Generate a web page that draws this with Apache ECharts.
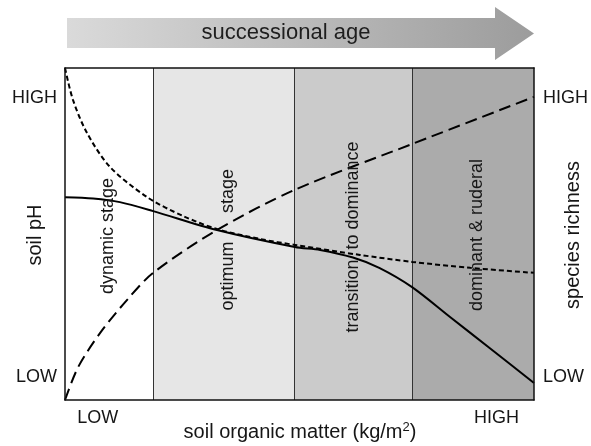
<!DOCTYPE html>
<html>
<head>
<meta charset="utf-8">
<script src="https://cdn.jsdelivr.net/npm/echarts@6/dist/echarts.min.js"></script>
<style>
  html, body { margin: 0; padding: 0; background: #fff; }
  #chart { width: 591px; height: 446px; }
</style>
</head>
<body>
<div id="chart"></div>
<script>
// stage bands along soil organic matter (0..100 relative scale)
const bandEdges = [0, 18.8, 48.8, 74.0, 100]
const bandColors = ['#ffffff', '#e6e6e6', '#cbcbcb', '#ababab']

// curves, [x, y] in 0..100 relative units
const soilPH = [
  [0, 61.1], [6, 60.7], [11.7, 59.6], [18.8, 56.9], [32.4, 51.2],
  [49.0, 46.1], [54.4, 45.2], [61.4, 42.9], [67, 39.8], [74.0, 34.0],
  [82.1, 25.0], [90.6, 15.6], [100, 5.1]
]
const speciesRichness = [
  [0, 100], [1.7, 90.4], [4.7, 80.4], [9.6, 70.2], [17.5, 61.1],
  [25.2, 55.4], [32.4, 51.5], [41.6, 48.5], [49.0, 46.7], [62.9, 43.7],
  [74.0, 41.6], [86.4, 39.8], [100, 38.3]
]
const organicMatter = [
  [0, 0], [2.8, 9.9], [7.5, 20.2], [13.2, 30.1], [18.8, 38.3],
  [32.4, 51.2], [49.0, 63.3], [74.0, 77.1], [100, 91.3]
]

// tick labels
const levelNames = ['LOW', 'HIGH']
const xLevelValues = [7, 92]
const yLevelValues = [7, 91]

const FONT = 'Liberation Sans, Arial, Helvetica, sans-serif'
const TXT = '#161616'

const chart = echarts.init(document.getElementById('chart'))

const levelFmt = (vals) => (v) => levelNames[vals.indexOf(v)] || ''

const axisLine = { show: true, onZero: false, lineStyle: { color: '#111', width: 1.5 } }
const labelStyle = { fontFamily: FONT, fontSize: 18, color: TXT }

function vtext(text, x, y, size) {
  return {
    type: 'text', x, y, rotation: Math.PI / 2, z: 20,
    style: { text, fontFamily: FONT, fontSize: size, fill: TXT, align: 'center', verticalAlign: 'middle' }
  }
}

const option = {
  animation: false,
  grid: { left: 65, top: 68, width: 469, height: 332 },
  xAxis: [
    {
      type: 'value', min: 0, max: 100, position: 'bottom', z: 10,
      axisLine, axisTick: { show: false }, splitLine: { show: false },
      axisLabel: Object.assign({ margin: 9, customValues: xLevelValues, formatter: levelFmt(xLevelValues) }, labelStyle)
    },
    {
      type: 'value', min: 0, max: 100, position: 'top', z: 10,
      axisLine, axisTick: { show: false }, splitLine: { show: false }, axisLabel: { show: false }
    }
  ],
  yAxis: [
    {
      type: 'value', min: 0, max: 100, position: 'left', z: 10,
      axisLine, axisTick: { show: false }, splitLine: { show: false },
      axisLabel: Object.assign({ margin: 8, customValues: yLevelValues, formatter: levelFmt(yLevelValues) }, labelStyle)
    },
    {
      type: 'value', min: 0, max: 100, position: 'right', z: 10,
      axisLine, axisTick: { show: false }, splitLine: { show: false },
      axisLabel: Object.assign({ margin: 9, customValues: yLevelValues, formatter: levelFmt(yLevelValues) }, labelStyle)
    }
  ],
  graphic: [
    {
      type: 'polygon', z: 1,
      shape: { points: [[67, 18], [495, 18], [495, 7], [534, 33.5], [495, 60], [495, 48], [67, 48]] },
      style: {
        fill: new echarts.graphic.LinearGradient(0, 0, 1, 0, [
          { offset: 0, color: '#dadada' },
          { offset: 1, color: '#9c9c9c' }
        ])
      }
    },
    {
      type: 'text', x: 286, y: 33, z: 2,
      style: { text: 'successional age', fontFamily: FONT, fontSize: 22, fill: '#1e1e1e', align: 'center', verticalAlign: 'middle' }
    },
    vtext('dynamic stage', 108, 236, 18),
    vtext('stage', 228, 191, 18),
    vtext('optimum', 228, 276, 18),
    vtext('transition  to dominance', 353, 237, 18),
    vtext('dominant & ruderal', 477, 235, 18),
    vtext('soil pH', 35, 235, 20),
    vtext('species richness', 573, 235, 20),
    {
      type: 'text', x: 300, y: 432, z: 20,
      style: {
        text: '{a|soil organic matter (kg/m}{s|2}{a|)}',
        align: 'center', verticalAlign: 'middle',
        rich: {
          a: { fontFamily: FONT, fontSize: 20, fill: TXT, color: TXT },
          s: { fontFamily: FONT, fontSize: 13, fill: TXT, color: TXT, verticalAlign: 'top', padding: [0, 0, 10, 0] }
        }
      }
    }
  ],
  series: [
    {
      type: 'line', data: [], z: 1, silent: true,
      markArea: {
        silent: true,
        data: bandColors.map((c, i) => [
          { xAxis: bandEdges[i], yAxis: 0, itemStyle: { color: c } },
          { xAxis: bandEdges[i + 1], yAxis: 100 }
        ])
      },
      markLine: {
        silent: true, symbol: 'none', label: { show: false },
        lineStyle: { color: '#333', width: 1, type: 'solid' },
        data: bandEdges.slice(1, -1).map(v => ({ xAxis: v }))
      }
    },
    {
      type: 'line', data: soilPH, smooth: 0.3, symbol: 'none', z: 5,
      lineStyle: { color: '#000', width: 2, type: 'solid' }
    },
    {
      type: 'line', data: speciesRichness, smooth: 0.3, symbol: 'none', z: 6,
      lineStyle: { color: '#000', width: 2, type: [5, 3] }
    },
    {
      type: 'line', data: organicMatter, smooth: 0.3, symbol: 'none', z: 6,
      lineStyle: { color: '#000', width: 2, type: [12, 6] }
    }
  ]
}

chart.setOption(option)
</script>
</body>
</html>
